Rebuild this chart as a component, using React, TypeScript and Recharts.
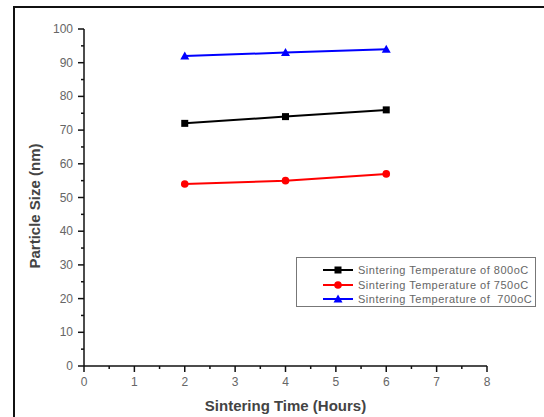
import { LineChart, Line, XAxis, YAxis } from 'recharts';

const hours = [2, 4, 6];
const temp800 = [72, 74, 76];
const temp750 = [54, 55, 57];
const temp700 = [92, 93, 94];

const seriesNames = [
  'Sintering Temperature of 800oC',
  'Sintering Temperature of 750oC',
  'Sintering Temperature of  700oC',
];

const xTicks = [0, 0.5, 1, 1.5, 2, 2.5, 3, 3.5, 4, 4.5, 5, 5.5, 6, 6.5, 7, 7.5, 8];
const yTicks = [0, 5, 10, 15, 20, 25, 30, 35, 40, 45, 50, 55, 60, 65, 70, 75, 80, 85, 90, 95, 100];

const data = hours.map((h, i) => ({
  hours: h,
  t800: temp800[i],
  t750: temp750[i],
  t700: temp700[i],
}));

const FONT = 'Arial, "Liberation Sans", sans-serif';

const XTick = (props: any) => {
  const { x, y, payload } = props;
  const major = Number.isInteger(payload.value);
  return (
    <g>
      <line x1={x} x2={x} y1={y} y2={y + (major ? 6 : 3)} stroke="#111" strokeWidth={1.5} />
      {major && (
        <text x={x} y={y + 20} textAnchor="middle" fontSize={12} fill="#666" fontFamily={FONT}>
          {payload.value}
        </text>
      )}
    </g>
  );
};

const YTick = (props: any) => {
  const { x, y, payload } = props;
  const major = payload.value % 10 === 0;
  return (
    <g>
      <line x1={x} x2={x - (major ? 6 : 3)} y1={y} y2={y} stroke="#111" strokeWidth={1.5} />
      {major && (
        <text x={x - 11} y={y + 4} textAnchor="end" fontSize={12} fill="#666" fontFamily={FONT}>
          {payload.value}
        </text>
      )}
    </g>
  );
};

const Square = (props: any) => {
  const { cx, cy, fill } = props;
  return <rect x={cx - 3.5} y={cy - 3.5} width={7} height={7} fill={fill} />;
};
const Circle = (props: any) => {
  const { cx, cy, fill } = props;
  return <circle cx={cx} cy={cy} r={3.8} fill={fill} />;
};
const Triangle = (props: any) => {
  const { cx, cy, fill } = props;
  return <path d={`M${cx},${cy - 4.5} L${cx + 4.5},${cy + 3.5} L${cx - 4.5},${cy + 3.5} Z`} fill={fill} />;
};

const legendItems = [
  { name: seriesNames[0], color: '#000000', Marker: Square },
  { name: seriesNames[1], color: '#ff0000', Marker: Circle },
  { name: seriesNames[2], color: '#0000ff', Marker: Triangle },
];

const LegendBox = () => (
  <div
    style={{
      position: 'absolute',
      left: 296,
      top: 257,
      width: 240,
      height: 50,
      border: '1px solid #777',
      boxSizing: 'border-box',
      background: '#fff',
      paddingTop: 5,
      fontFamily: FONT,
    }}
  >
    {legendItems.map((it) => (
      <div key={it.name} style={{ display: 'flex', alignItems: 'center', height: 14.5 }}>
        <svg width={30} height={10} style={{ marginLeft: 26 }}>
          <line x1={0} x2={30} y1={5} y2={5} stroke={it.color} strokeWidth={2} />
          <it.Marker cx={15} cy={5} fill={it.color} />
        </svg>
        <span style={{ marginLeft: 5, fontSize: 11, color: '#666', whiteSpace: 'pre', letterSpacing: 0.5 }}>
          {it.name}
        </span>
      </div>
    ))}
  </div>
);

export default function ParticleSizeChart() {
  return (
    <div style={{ position: 'absolute', left: 0, top: 0, width: 544, height: 417, overflow: 'hidden', background: '#fff' }}>
      <div
        style={{
          position: 'absolute',
          left: 13,
          top: 6,
          width: 600,
          height: 500,
          borderLeft: '2px solid #111',
          borderTop: '2px solid #111',
        }}
      />
      <div style={{ position: 'absolute', left: 0, top: 0 }}>
        <LineChart width={544} height={417} data={data} margin={{ top: 29, right: 57, bottom: 21, left: 20 }}>
          <XAxis
            dataKey="hours"
            type="number"
            domain={[0, 8]}
            ticks={xTicks}
            interval={0}
            height={30}
            tickSize={0}
            tickMargin={0}
            tickLine={false}
            tick={<XTick />}
            stroke="#111"
            strokeWidth={1.5}
            label={{
              value: 'Sintering Time (Hours)',
              position: 'insideBottom',
              offset: -15,
              fill: '#444',
              fontSize: 15,
              fontWeight: 'bold',
              fontFamily: FONT,
            }}
          />
          <YAxis
            type="number"
            domain={[0, 100]}
            ticks={yTicks}
            interval={0}
            width={64}
            tickSize={0}
            tickMargin={0}
            tickLine={false}
            tick={<YTick />}
            stroke="#111"
            strokeWidth={1.5}
            label={{
              value: 'Particle Size (nm)',
              angle: -90,
              position: 'insideLeft',
              offset: 0,
              dx: 15,
              dy: 71,
              fill: '#444',
              fontSize: 15,
              fontWeight: 'bold',
              fontFamily: FONT,
            }}
          />
          <Line
            name={seriesNames[0]}
            dataKey="t800"
            stroke="#000000"
            strokeWidth={2}
            dot={<Square fill="#000000" />}
            isAnimationActive={false}
          />
          <Line
            name={seriesNames[1]}
            dataKey="t750"
            stroke="#ff0000"
            strokeWidth={2}
            dot={<Circle fill="#ff0000" />}
            isAnimationActive={false}
          />
          <Line
            name={seriesNames[2]}
            dataKey="t700"
            stroke="#0000ff"
            strokeWidth={2}
            dot={<Triangle fill="#0000ff" />}
            isAnimationActive={false}
          />
        </LineChart>
      </div>
      <LegendBox />
    </div>
  );
}
